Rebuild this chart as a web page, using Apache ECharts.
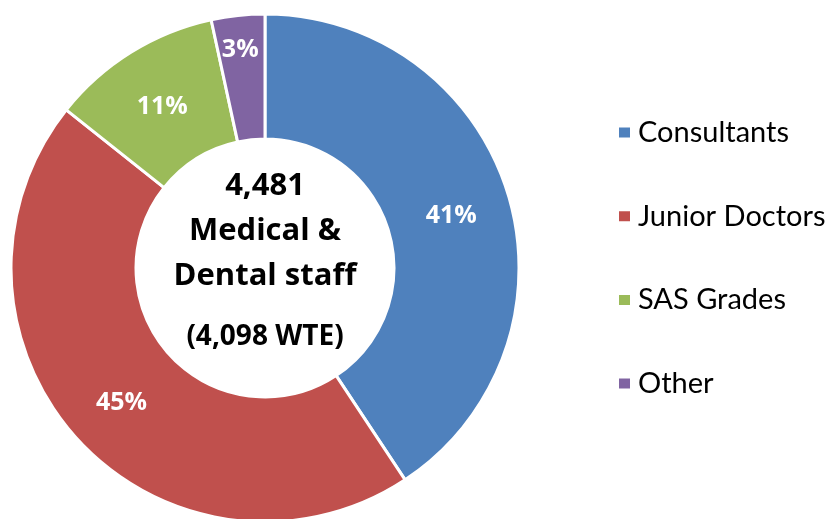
<!DOCTYPE html>
<html>
<head>
<meta charset="utf-8">
<script src="https://cdn.jsdelivr.net/npm/echarts@6/dist/echarts.min.js"></script>
<style>
  html, body { margin: 0; padding: 0; background: #fff; }
  #chart { width: 825px; height: 519px; }
</style>
</head>
<body>
<div id="chart"></div>
<script>
// Data (shares in %)
const groups = ['Consultants', 'Junior Doctors', 'SAS Grades', 'Other'];
const shares = [40.7, 45.0, 10.9, 3.4];
const colours = ['#4F81BD', '#C0504D', '#9BBB59', '#8064A2'];
const centreLines = ['4,481', 'Medical &', 'Dental staff'];
const centreNote = '(4,098 WTE)';

const font = 'Lato, "Open Sans", sans-serif';
const boldFont = '"Open Sans", Lato, sans-serif';

let chart = echarts.init(document.getElementById('chart'));

// centre text, one line per element
let centreText = centreLines.map((t, i) => ({
    type: 'text',
    x: 265,
    y: 186 + i * 45,
    z: 100,
    style: {
        text: t,
        textAlign: 'center',
        textVerticalAlign: 'middle',
        font: 'bold 31px ' + boldFont,
        fill: '#000'
    }
}));
centreText.push({
    type: 'text',
    x: 265,
    y: 337,
    z: 100,
    style: {
        text: centreNote,
        textAlign: 'center',
        textVerticalAlign: 'middle',
        font: 'bold 28px ' + boldFont,
        fill: '#000'
    }
});

chart.setOption({
    color: colours,
    animation: false,
    textStyle: { fontFamily: font },

    legend: {
        orient: 'vertical',
        left: 612,
        top: 113,
        itemWidth: 13,
        itemHeight: 12,
        itemGap: 54.7,
        icon: 'rect',
        data: groups,
        textStyle: { fontSize: 29, color: '#000', fontFamily: font, padding: [0, 0, 0, 2] }
    },

    graphic: centreText,

    series: [{
        type: 'pie',
        center: [265, 268],
        radius: [129, 254],
        startAngle: 90,
        clockwise: true,
        avoidLabelOverlap: false,
        itemStyle: { borderColor: '#fff', borderWidth: 3 },
        label: {
            show: true,
            position: 'inside',
            formatter: p => Math.round(p.value) + '%',
            color: '#fff',
            fontSize: 25,
            fontWeight: 'bold',
            fontFamily: boldFont
        },
        // labels sit a little low; the small slice's label nearer the outer edge
        labelLayout: p => p.dataIndex === 3 ? { dx: -4, dy: -25 } : { dy: 4 },
        labelLine: { show: false },
        data: groups.map((g, i) => ({ name: g, value: shares[i] }))
    }]
});
</script>
</body>
</html>
